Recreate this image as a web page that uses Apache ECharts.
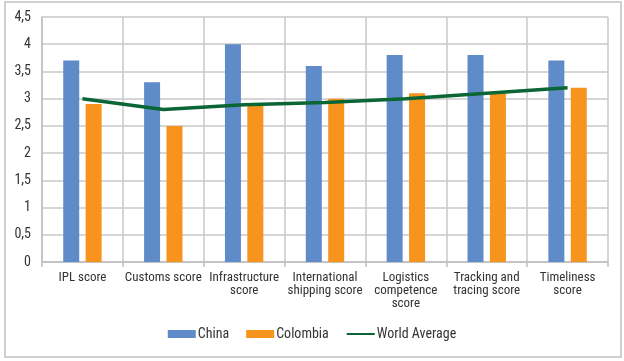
<!DOCTYPE html>
<html><head><meta charset="utf-8">
<script src="https://cdn.jsdelivr.net/npm/echarts@6/dist/echarts.min.js"></script>
<style>html,body{margin:0;padding:0;background:#fff}#c{width:624px;height:361px}</style>
</head><body><div id="c"></div>
<script>
var categories = ["IPL score", "Customs score", "Infrastructure\nscore", "International\nshipping score", "Logistics\ncompetence\nscore", "Tracking and\ntracing score", "Timeliness\nscore"];
var china = [3.7, 3.3, 4.0, 3.6, 3.8, 3.8, 3.7];
var colombia = [2.9, 2.5, 2.9, 3.0, 3.1, 3.1, 3.2];
var worldAverage = [3.0, 2.8, 2.89, 2.93, 3.0, 3.1, 3.2];
var yTicks = {min: 0, max: 4.5, interval: 0.5};

var FONT = '"Roboto Condensed", "Liberation Sans", sans-serif';
var chart = echarts.init(document.getElementById('c'), null, {renderer: 'canvas'});
chart.setOption({
  animation: false,
  backgroundColor: '#fff',
  textStyle: {fontFamily: FONT},
  graphic: [{type: 'rect', shape: {x: 5, y: 2, width: 616, height: 355}, style: {fill: 'none', stroke: '#cfcfcf', lineWidth: 2}, silent: true}],
  grid: {left: 42, right: 16, top: 17, bottom: 99, containLabel: false},
  legend: {
    bottom: 15, left: 'center', itemGap: 17, itemWidth: 28, itemHeight: 8,
    textStyle: {fontFamily: FONT, fontSize: 14, color: '#333', padding: [0, 0, 0, -3]},
    data: [
      {name: 'China', icon: 'rect'},
      {name: 'Colombia', icon: 'rect'},
      {name: 'World Average', itemStyle: {opacity: 0}}
    ]
  },
  xAxis: {
    type: 'category', data: categories,
    axisLine: {lineStyle: {color: '#bfbfbf', width: 1.5}},
    axisTick: {show: true, length: 5, lineStyle: {color: '#bfbfbf', width: 1.5}},
    splitLine: {show: true, lineStyle: {color: '#c8c8c8', width: 1.5}},
    axisLabel: {fontFamily: FONT, fontSize: 13, color: '#333', lineHeight: 13, margin: 9, interval: 0}
  },
  yAxis: {
    type: 'value', min: yTicks.min, max: yTicks.max, interval: yTicks.interval,
    axisLine: {show: true, lineStyle: {color: '#bfbfbf', width: 1.5}},
    splitLine: {lineStyle: {color: '#c8c8c8', width: 1.5}},
    axisLabel: {fontFamily: FONT, fontSize: 14, color: '#333', margin: 11,
      formatter: function (v) { return String(v).replace('.', ','); }}
  },
  series: [
    {name: 'China', type: 'bar', data: china, barWidth: 16, barGap: '40%', itemStyle: {color: '#5f8bc9'}},
    {name: 'Colombia', type: 'bar', data: colombia, barWidth: 16, itemStyle: {color: '#f7941d'}},
    {name: 'World Average', type: 'line', data: worldAverage, symbol: 'none', lineStyle: {color: '#0a6634', width: 3.5}, itemStyle: {color: '#0a6634'}}
  ]
});
</script></body></html>
